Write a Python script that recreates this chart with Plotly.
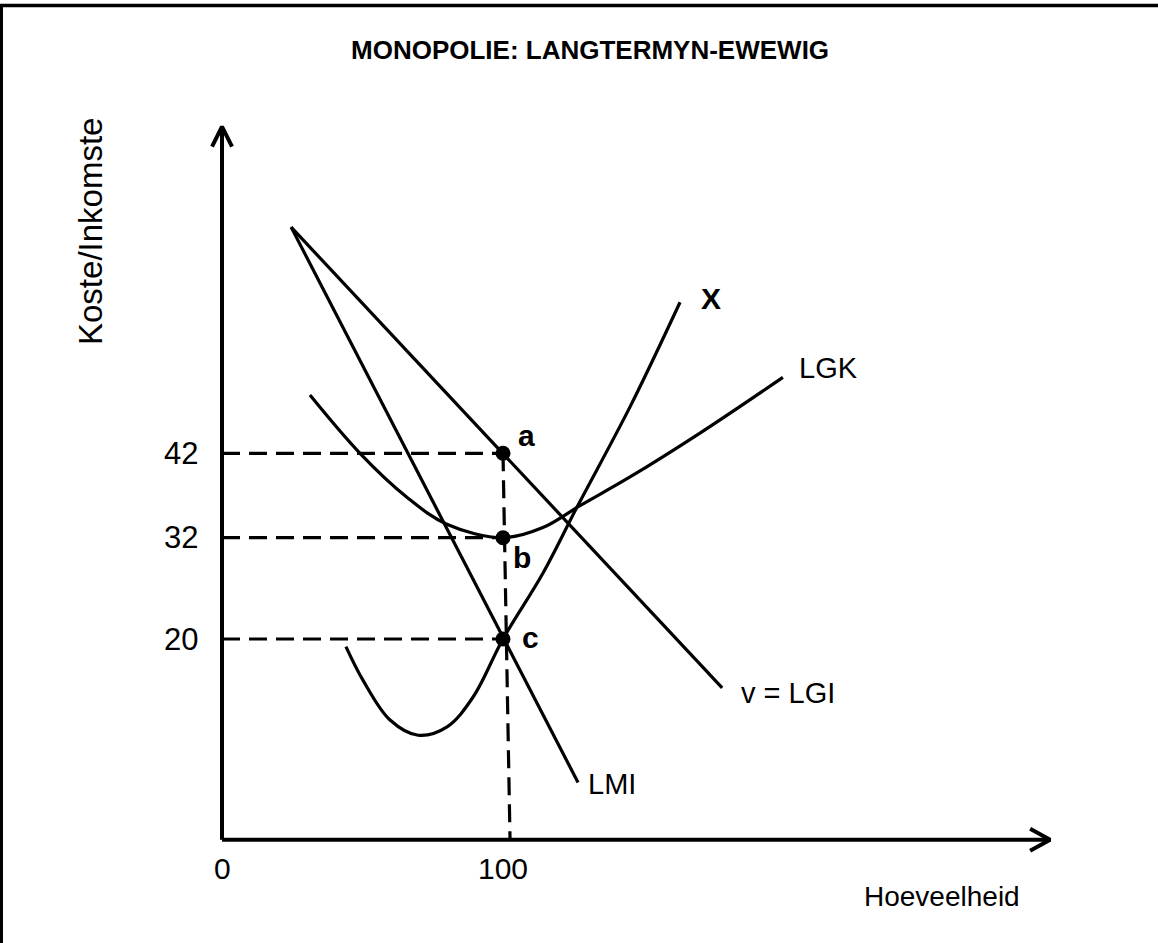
import plotly.graph_objects as go

# ---------------- data ----------------
price_ticks = [42, 32, 20]
price_tick_labels = ["42", "32", "20"]
qty_ticks = [0, 100]
qty_tick_labels = ["0", "100"]

# v = LGI (demand / average revenue)
lgi_q = [24.6, 178.0]
lgi_p = [68.8, 14.2]

# LMI (marginal revenue)
lmi_q = [24.6, 126.7]
lmi_p = [68.8, 3.0]

# LGK (long-run average cost)
lgk_q = [31.3, 49.1, 65.8, 80.0, 100.0, 114.2, 127.4, 145.2, 170.1, 199.6]
lgk_p = [48.9, 42.0, 36.8, 33.6, 32.0, 33.2, 35.8, 39.2, 44.4, 51.0]

# X (long-run marginal cost)
lmk_q = [44.1, 50.2, 59.8, 69.8, 80.1, 89.3, 100.0, 114.2, 126.3, 145.2, 163.0]
lmk_p = [19.1, 15.1, 10.4, 8.6, 9.6, 13.1, 20.0, 27.8, 35.6, 47.5, 59.9]

# equilibrium points a, b, c
eq_q = [100, 100, 100]
eq_p = [42, 32, 20]
eq_labels = ["a", "b", "c"]

# axis extents (diagram units)
AX_Y0 = -3.8      # level of the horizontal axis
AX_Y1 = 80.7      # tip of vertical axis arrow
AX_X1 = 294.7     # tip of horizontal axis arrow
VDASH_BOTTOM_Q = 102.5

# ---------------- layout geometry ----------------
W, H = 1158, 943
X0PX, XSCALE = 222.0, 2.81     # pixel of q=0, pixels per unit
Y0PX, YSCALE = 807.8, 8.44     # pixel of p=0, pixels per unit
xr = [(0 - X0PX) / XSCALE, (W - X0PX) / XSCALE]
yr = [(Y0PX - H) / YSCALE, (Y0PX - 0) / YSCALE]

FONT = "Arial, 'Liberation Sans', sans-serif"
BLACK = "#000000"
LW = 3.2
FS = 29

fig = go.Figure()

def line(x, y, width=LW, dash=None, shape="linear"):
    fig.add_trace(go.Scatter(
        x=x, y=y, mode="lines",
        line=dict(color=BLACK, width=width, dash=dash, shape=shape, smoothing=1.0),
        hoverinfo="skip", showlegend=False))

# axes
line([0, 0], [AX_Y0, AX_Y1], width=4)
line([0, AX_X1], [AX_Y0, AX_Y0], width=4)
# arrow heads (open chevrons)
ah_w_y, ah_l_y = 10 / XSCALE, 20 / YSCALE
line([-ah_w_y, 0, ah_w_y], [AX_Y1 - ah_l_y, AX_Y1, AX_Y1 - ah_l_y], width=4)
ah_l_x, ah_w_x = 20 / XSCALE, 11 / YSCALE
line([AX_X1 - ah_l_x, AX_X1, AX_X1 - ah_l_x], [AX_Y0 + ah_w_x, AX_Y0, AX_Y0 - ah_w_x], width=4)

# dashed guide lines
for p in eq_p:
    line([0, eq_q[0]], [p, p], dash="18px,9px")
line([eq_q[0], VDASH_BOTTOM_Q], [max(eq_p), AX_Y0], dash="18px,9px")

# curves
line(lgi_q, lgi_p)
line(lmi_q, lmi_p)
line(lgk_q, lgk_p, shape="spline")
line(lmk_q, lmk_p, shape="spline")

# points
fig.add_trace(go.Scatter(x=eq_q, y=eq_p, mode="markers",
                         marker=dict(color=BLACK, size=15),
                         hoverinfo="skip", showlegend=False))

def f(size=FS):
    return dict(size=size, family=FONT, color=BLACK)

ann = []
# point labels
shifts = [(23, 18), (19, -20), (27, 2)]
for q, p, t, (dx, dy) in zip(eq_q, eq_p, eq_labels, shifts):
    ann.append(dict(x=q, y=p, text=f"<b>{t}</b>", showarrow=False,
                    xshift=dx, yshift=dy, font=f(30)))

# curve labels
ann.append(dict(x=lmk_q[-1], y=lmk_p[-1], text="<b>X</b>", showarrow=False,
                xanchor="left", xshift=19, yshift=4, font=f(30)))
ann.append(dict(x=lgk_q[-1], y=lgk_p[-1], text="LGK", showarrow=False,
                xanchor="left", xshift=14, yshift=9, font=f()))
ann.append(dict(x=lgi_q[-1], y=lgi_p[-1], text="v = LGI", showarrow=False,
                xanchor="left", xshift=17, yshift=-5, font=f()))
ann.append(dict(x=lmi_q[-1], y=lmi_p[-1], text="LMI", showarrow=False,
                xanchor="left", xshift=8, yshift=-2, font=f()))

# tick labels
for p, t in zip(price_ticks, price_tick_labels):
    ann.append(dict(x=0, y=p, text=t, showarrow=False, xanchor="right", yanchor="middle",
                    xshift=-22, font=f(31)))
for q, t in zip(qty_ticks, qty_tick_labels):
    ann.append(dict(x=q, y=AX_Y0, text=t, showarrow=False, yanchor="top",
                    yshift=-10, font=f(30)))

# axis titles and chart title
ann.append(dict(x=942 / W, y=1 - 896 / H, xref="paper", yref="paper", text="Hoeveelheid",
                xanchor="center", yanchor="middle", showarrow=False, font=f(28)))
ann.append(dict(x=90 / W, y=1 - 232 / H, xref="paper", yref="paper", text="Koste/Inkomste",
                xanchor="center", yanchor="middle",
                textangle=-90, showarrow=False, font=f(33)))
ann.append(dict(x=590 / W, y=1 - 50 / H, xref="paper", yref="paper",
                text="<b>MONOPOLIE: LANGTERMYN-EWEWIG</b>",
                xanchor="center", yanchor="middle", showarrow=False, font=f(26)))

shapes = [
    dict(type="line", xref="paper", yref="paper", x0=0, x1=1, y0=1 - 5.5 / H, y1=1 - 5.5 / H,
         line=dict(color=BLACK, width=3.5)),
    dict(type="line", xref="paper", yref="paper", x0=1.5 / W, x1=1.5 / W, y0=0, y1=1 - 4 / H,
         line=dict(color=BLACK, width=3)),
]

fig.update_layout(
    width=W, height=H,
    margin=dict(l=0, r=0, t=0, b=0),
    paper_bgcolor="white", plot_bgcolor="white",
    xaxis=dict(range=xr, visible=False, fixedrange=True),
    yaxis=dict(range=yr, visible=False, fixedrange=True),
    annotations=ann, shapes=shapes,
    showlegend=False,
)

fig.write_html("out.html", config={"displayModeBar": False},
               post_script="document.body.style.margin='0px';")
